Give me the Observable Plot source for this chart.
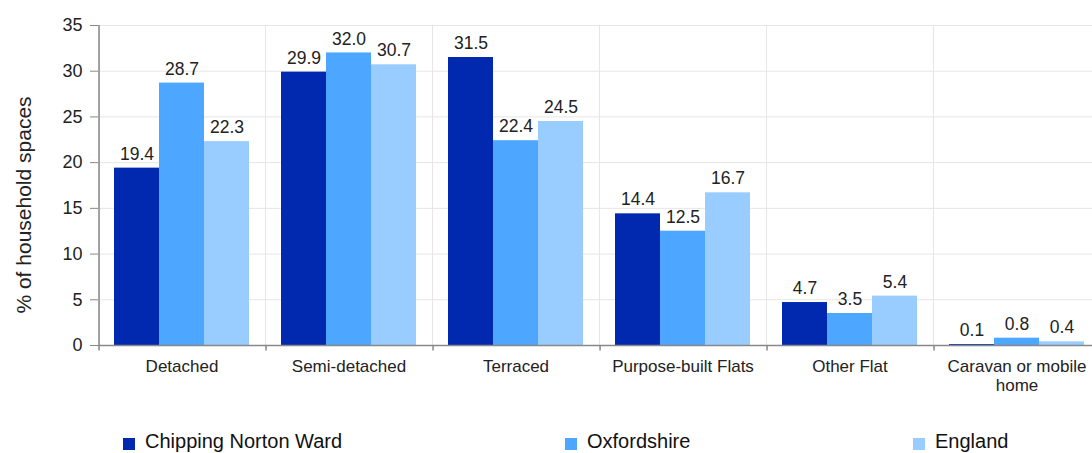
<!DOCTYPE html>
<html><head><meta charset="utf-8">
<script src="https://cdn.jsdelivr.net/npm/d3@7"></script>
<script src="https://cdn.jsdelivr.net/npm/@observablehq/plot@0.6"></script>
<style>
body{margin:0;background:#fff;overflow:hidden;font-family:"Liberation Sans",Arial,sans-serif;}
#wrap{position:relative;width:1092px;height:453px;overflow:hidden}
#chart{position:absolute;left:0;top:0}
#ytitle{position:absolute;left:23px;top:205px;transform:translate(-50%,-50%) rotate(-90deg);font-size:21px;color:#222;white-space:nowrap;line-height:1}
.legend{position:absolute;top:430px;left:0;width:1092px;height:22px;font-size:20px;color:#111}
.legend .item{position:absolute;top:0;display:flex;align-items:center;white-space:nowrap;line-height:22px}
.legend .sw{width:12px;height:12px;margin-right:10px;position:relative;top:3px}
</style></head><body><div id="wrap"><div id="chart"></div><div id="ytitle">% of household spaces</div><div class="legend" id="legend"></div></div>
<script>
const categories = ["Detached","Semi-detached","Terraced","Purpose-built Flats","Other Flat","Caravan or mobile home"];
const series = ["Chipping Norton Ward","Oxfordshire","England"];
const chippingNorton = [19.4,29.9,31.5,14.4,4.7,0.1];
const oxfordshire = [28.7,32.0,22.4,12.5,3.5,0.8];
const england = [22.3,30.7,24.5,16.7,5.4,0.4];
const yTicks = [0,5,10,15,20,25,30,35];
const colors = ["#0029b0","#4da6ff","#99ccff"];

const values = [chippingNorton, oxfordshire, england];
const data = [];
categories.forEach((c, i) => series.forEach((s, j) => data.push({category: c, series: s, value: values[j][i]})));

// layout constants
const W = 1102, H = 400, ML = 97, MT = 25, MB = 55;
const band = (W - ML - 1) / categories.length;
const outerPad = 0.33;
const barW = band / (series.length + 2 * outerPad);
const edgeDx = -(barW / 2 + outerPad * barW);

const chart = Plot.plot({
  width: W, height: H,
  marginLeft: ML, marginTop: MT, marginBottom: MB, marginRight: 1,
  style: {fontFamily: "'Liberation Sans', Arial, sans-serif", color: "#222", background: "#fff", maxWidth: "none"},
  fx: {domain: categories, padding: 0, label: null},
  x: {domain: series, paddingInner: 0, paddingOuter: outerPad, axis: null},
  y: {domain: [0, 35], ticks: yTicks, label: null},
  color: {domain: series, range: colors},
  marks: [
    Plot.gridY(yTicks, {stroke: "#e6e6e6", strokeOpacity: 1}),
    Plot.frame({stroke: "#e6e6e6"}),
    Plot.barY(data, {fx: "category", x: "series", y: "value", fill: "series"}),
    Plot.text(data, {fx: "category", x: "series", y: "value", text: d => d.value.toFixed(1), dy: -14, fontSize: 17.5, fill: "#222"}),
    Plot.ruleY([0], {stroke: "#888", strokeWidth: 1.5}),
    Plot.ruleX([categories[0]], {fx: d => d, x: () => series[0], dx: edgeDx, y1: 0, y2: 35, stroke: "#888", strokeWidth: 1.5}),
    Plot.ruleX(categories, {fx: d => d, x: () => series[0], dx: edgeDx, y1: 0, y2: -0.6, stroke: "#888", strokeWidth: 1.5}),
    Plot.axisY({ticks: yTicks, tickSize: 8, tickPadding: 8, fontSize: 18, stroke: "#888", fill: "#222", label: null}),
    Plot.axisFx({anchor: "bottom", tickSize: 0, tickPadding: 13, fontSize: 17, fill: "#222", label: null, lineHeight: 1.12,
      tickFormat: d => d === "Caravan or mobile home" ? "Caravan or mobile\nhome" : d})
  ]
});
document.getElementById("chart").appendChild(chart);

const legendX = [123, 565, 913];
const legend = document.getElementById("legend");
series.forEach((s, i) => {
  const item = document.createElement("div");
  item.className = "item";
  item.style.left = legendX[i] + "px";
  item.innerHTML = `<span class="sw" style="background:${colors[i]}"></span><span>${s}</span>`;
  legend.appendChild(item);
});
</script>
</body></html>
